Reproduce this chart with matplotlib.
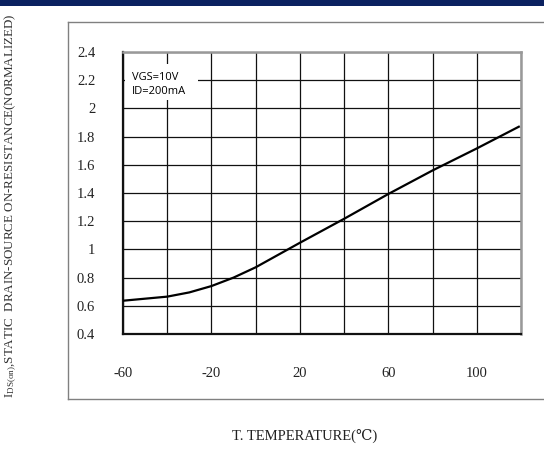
import matplotlib
matplotlib.use("Agg")
import matplotlib.pyplot as plt
from matplotlib.patches import Rectangle
from matplotlib.lines import Line2D

plt.rcParams["axes.unicode_minus"] = False
plt.rcParams["mathtext.fontset"] = "custom"
plt.rcParams["mathtext.rm"] = "Liberation Serif"
plt.rcParams["mathtext.it"] = "Liberation Serif"

# Data
temps = [-60, -40, -30, -20, -10, 0, 20, 40, 60, 80, 100, 119]
rds = [0.636, 0.665, 0.695, 0.74, 0.80, 0.873, 1.047, 1.217, 1.393, 1.56, 1.716, 1.87]
xticks = [-60, -20, 20, 60, 100]
yticks = [0.4, 0.6, 0.8, 1.0, 1.2, 1.4, 1.6, 1.8, 2.0, 2.2, 2.4]
ytick_labels = ["0.4", "0.6", "0.8", "1", "1.2", "1.4", "1.6", "1.8", "2", "2.2", "2.4"]

W, H = 544, 450
fig = plt.figure(figsize=(W / 100, H / 100), dpi=100)
fig.patch.set_facecolor("white")

serif = ["Liberation Serif", "DejaVu Serif"]

# top blue bar
fig.add_artist(Rectangle((0, 1 - 6 / H), 1, 6 / H, transform=fig.transFigure,
                         facecolor="#0b2160", edgecolor="none"))
# outer frame
fc = "#808080"
fig.add_artist(Line2D([68 / W, 1.0], [1 - 22 / H, 1 - 22 / H], transform=fig.transFigure, color=fc, lw=1))
fig.add_artist(Line2D([68 / W, 1.0], [1 - 399 / H, 1 - 399 / H], transform=fig.transFigure, color=fc, lw=1))
fig.add_artist(Line2D([68 / W, 68 / W], [1 - 22 / H, 1 - 399 / H], transform=fig.transFigure, color=fc, lw=1))

left, right, top, bottom = 123, 521, 52, 334
ax = fig.add_axes([left / W, 1 - bottom / H, (right - left) / W, (bottom - top) / H])
ax.set_xlim(-60, 120)
ax.set_ylim(0.4, 2.4)
ax.set_xticks(xticks)
ax.set_xticks(range(-60, 121, 20), minor=True)
ax.set_yticks(yticks)
ax.set_yticklabels(ytick_labels)
ax.grid(True, which="both", axis="x", color="#111111", lw=0.9)
ax.grid(True, which="major", axis="y", color="#111111", lw=0.9)
ax.tick_params(which="both", length=0)
ax.tick_params(axis="y", pad=20, labelsize=10.5)
ax.tick_params(axis="x", pad=24, labelsize=10.5)
for lab in ax.get_xticklabels() + ax.get_yticklabels():
    lab.set_family(serif)
    lab.set_color("#222222")
for s in ["top", "right"]:
    ax.spines[s].set_color("#999999")
    ax.spines[s].set_linewidth(1.8)
for s in ["left", "bottom"]:
    ax.spines[s].set_color("#111111")
    ax.spines[s].set_linewidth(1.6)

ax.plot(temps, rds, color="black", lw=1.6, zorder=3)

# annotation box
ax.add_patch(Rectangle((0.004, 1 - 48 / 282), 0.185, 36 / 282, transform=ax.transAxes,
                       facecolor="white", edgecolor="none", zorder=2.5))
ax.text(9 / 398, 1 - 25 / 282, "VGS=10V", transform=ax.transAxes, fontsize=8,
        family=["Open Sans", "DejaVu Sans"], va="center", ha="left", zorder=4)
ax.text(9 / 398, 1 - 40 / 282, "ID=200mA", transform=ax.transAxes, fontsize=8,
        family=["Open Sans", "DejaVu Sans"], va="center", ha="left", zorder=4)

# axis labels
fig.text(305 / W, 1 - 436 / H, "T. TEMPERATURE(\u2103)", ha="center", va="center",
         fontsize=10.5, family=serif, color="#222222")
fig.text(11 / W, 1 - 398 / H, r"I$_{\mathrm{DS(on)}}$,STATIC  DRAIN-SOURCE ON-RESISTANCE(NORMALIZED)",
         rotation=90, ha="center", va="bottom", fontsize=9.4, family=serif, color="#333333")

fig.savefig("out.png", dpi=100)
